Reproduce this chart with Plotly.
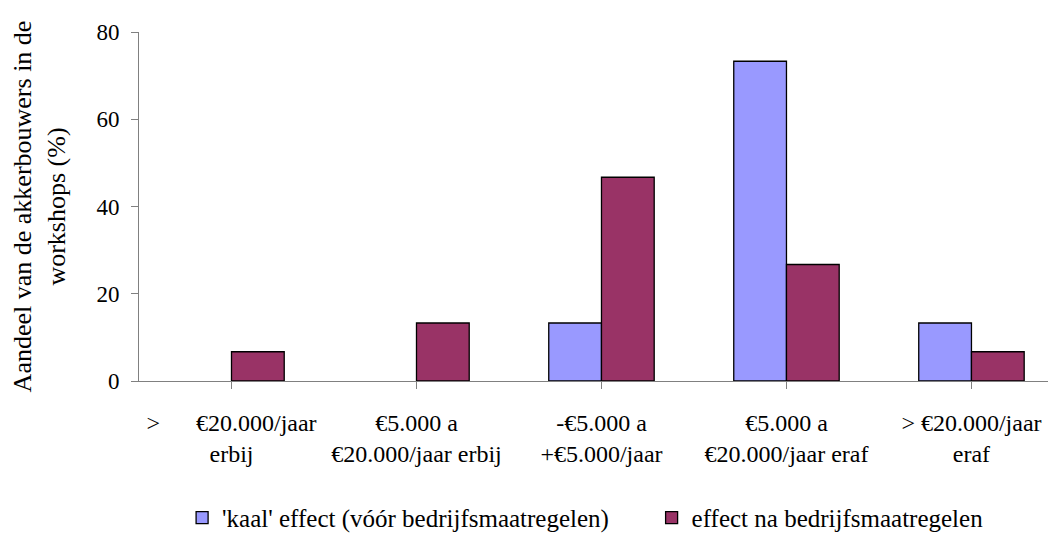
import plotly.graph_objects as go

categories = [
    "&gt;&nbsp;&nbsp;&nbsp;&nbsp;&nbsp;&nbsp;€20.000/jaar<br>erbij",
    "€5.000 a<br>€20.000/jaar erbij",
    "-€5.000 a<br>+€5.000/jaar",
    "€5.000 a<br>€20.000/jaar eraf",
    "&gt; €20.000/jaar<br>eraf",
]
kaal_effect = [0, 0, 13.3, 73.3, 13.3]
na_maatregelen = [6.7, 13.3, 46.7, 26.7, 6.7]
series_names = ["'kaal' effect (vóór bedrijfsmaatregelen)", "effect na bedrijfsmaatregelen"]
y_ticks = [0, 20, 40, 60, 80]

FAM = "Liberation Serif"
FS = 23


def nonzero(vals):
    # zero-valued bars are not drawn in the reference
    xs = [i for i, v in enumerate(vals) if v != 0]
    ys = [v for v in vals if v != 0]
    return xs, ys


fig = go.Figure()
x1, y1 = nonzero(kaal_effect)
fig.add_trace(go.Bar(
    x=x1, y=y1, name=series_names[0], offsetgroup="a",
    marker=dict(color="#9999FF", line=dict(color="black", width=1.3)),
    legend="legend",
))
x2, y2 = nonzero(na_maatregelen)
fig.add_trace(go.Bar(
    x=x2, y=y2, name=series_names[1], offsetgroup="b",
    marker=dict(color="#993366", line=dict(color="black", width=1.3)),
    legend="legend2",
))

legend_common = dict(orientation="h", xanchor="left", y=-0.392, yanchor="middle",
                     font=dict(family=FAM, size=25, color="black"),
                     bgcolor="rgba(0,0,0,0)")

fig.update_layout(
    width=1048, height=527,
    margin=dict(l=131, r=0, t=24, b=154, autoexpand=False),
    paper_bgcolor="white", plot_bgcolor="white",
    barmode="group", bargap=0.43, bargroupgap=0,
    font=dict(family=FAM, size=FS, color="black"),
    showlegend=True,
    legend=dict(x=0.047, **legend_common),
    legend2=dict(x=0.559, **legend_common),
)
fig.update_xaxes(
    range=[-0.5, 4.457],
    tickmode="array", tickvals=list(range(len(categories))), ticktext=categories,
    tickson="boundaries", ticks="outside", ticklen=7, tickcolor="#808080",
    showline=True, linecolor="#808080", linewidth=1,
    showgrid=False, zeroline=False,
    tickfont=dict(family=FAM, size=24, color="black"),
    ticklabelstandoff=13,
)
fig.update_yaxes(
    range=[0, 80], tickvals=y_ticks,
    ticks="outside", ticklen=7, tickcolor="#808080",
    showline=True, linecolor="#808080", linewidth=1,
    showgrid=False, zeroline=False,
    tickfont=dict(family=FAM, size=FS, color="black"),
    ticklabelstandoff=7,
    title=dict(text="Aandeel van de akkerbouwers in de<br>workshops (%)",
               font=dict(family=FAM, size=26, color="black"), standoff=33),
)

fig.write_html("out.html")
